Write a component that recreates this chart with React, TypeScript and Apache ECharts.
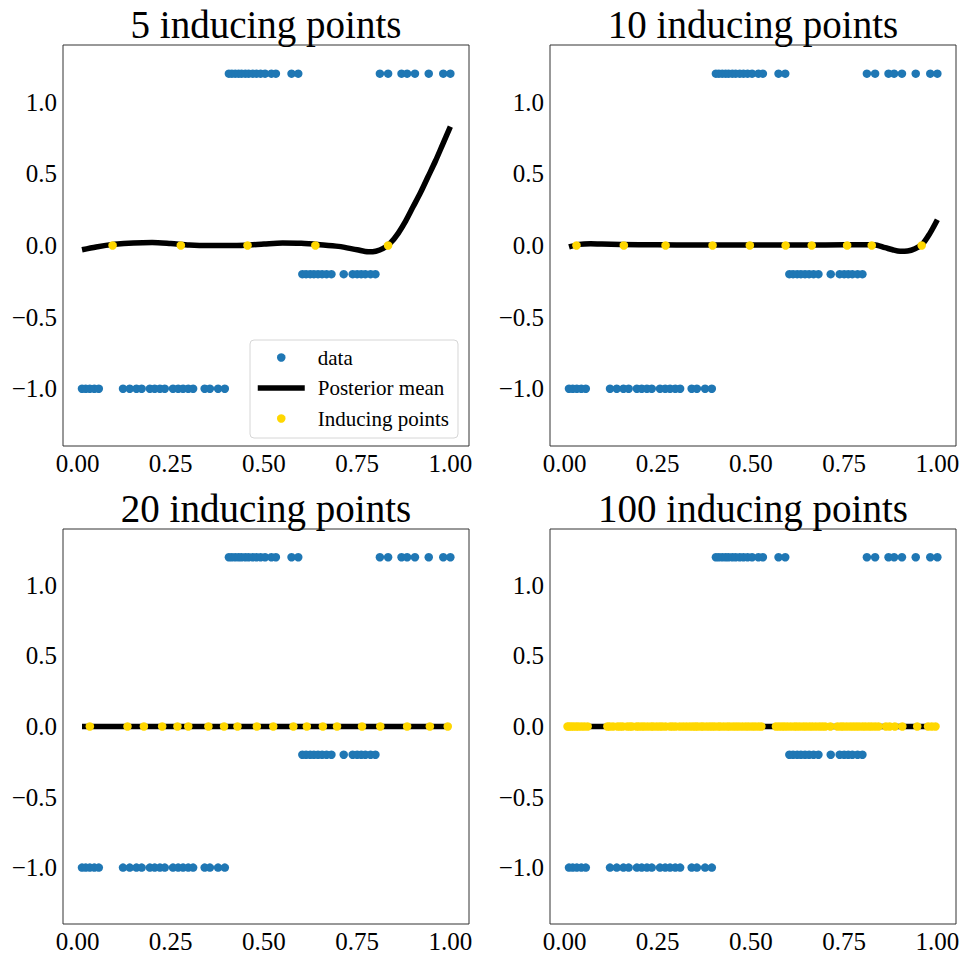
import React, { useEffect, useRef } from "react";
import * as echarts from "echarts";

const BLUE = "#1f77b4";
const GOLD = "#ffd700";
const FONT = "'Liberation Serif', 'DejaVu Serif', serif";

const panelTitles = [
  "5 inducing points",
  "10 inducing points",
  "20 inducing points",
  "100 inducing points",
];

const xTickValues = [0, 0.25, 0.5, 0.75, 1.0];
const xTickLabels = ["0.00", "0.25", "0.50", "0.75", "1.00"];
const yTickValues = [-1, -0.5, 0, 0.5, 1];
const yTickLabels = ["−1.0", "−0.5", "0.0", "0.5", "1.0"];

// Observations: a step function, one list of x positions per level
const stepLevels = [-1, 1.2, -0.2, 1.2];
const stepLowX = [
  0.012, 0.022, 0.033, 0.045, 0.057, 0.122, 0.14, 0.158, 0.172, 0.194, 0.207,
  0.221, 0.234, 0.256, 0.27, 0.283, 0.297, 0.31, 0.341, 0.355, 0.377, 0.395,
];
const stepHighAX = [
  0.406, 0.414, 0.423, 0.432, 0.44, 0.45, 0.459, 0.47, 0.48, 0.491, 0.503,
  0.52, 0.532, 0.574, 0.592,
];
const stepMidX = [
  0.603, 0.613, 0.624, 0.634, 0.645, 0.656, 0.668, 0.681, 0.714, 0.738, 0.75,
  0.761, 0.772, 0.786, 0.799,
];
const stepHighBX = [0.811, 0.833, 0.869, 0.884, 0.905, 0.942, 0.981, 1.0];
const stepGroups = [stepLowX, stepHighAX, stepMidX, stepHighBX];

// Inducing point locations for each model
const inducing5 = [0.094, 0.277, 0.456, 0.638, 0.833];
const inducing10 = [0.032, 0.159, 0.271, 0.397, 0.497, 0.593, 0.663, 0.758, 0.824, 0.958];
const inducing20 = [
  0.033, 0.134, 0.178, 0.227, 0.268, 0.297, 0.351, 0.393, 0.429, 0.481, 0.525,
  0.579, 0.615, 0.658, 0.696, 0.763, 0.812, 0.884, 0.945, 0.993,
];
const inducing100 = [
  0.008, 0.012, 0.018, 0.024, 0.031, 0.037, 0.045, 0.053, 0.062,
  0.115, 0.121, 0.13, 0.142, 0.149, 0.156, 0.168, 0.175, 0.181, 0.193, 0.199,
  0.207, 0.214, 0.223, 0.232, 0.238, 0.247, 0.255, 0.262, 0.271, 0.283, 0.29,
  0.298, 0.309, 0.318, 0.327,
  0.336, 0.344, 0.351, 0.357, 0.366, 0.372, 0.381, 0.389, 0.396, 0.403, 0.412,
  0.418, 0.427, 0.436, 0.443, 0.452, 0.46, 0.468, 0.477, 0.486, 0.494, 0.503,
  0.511, 0.52, 0.528,
  0.567, 0.575, 0.583, 0.59, 0.598, 0.607, 0.616, 0.623, 0.631, 0.64, 0.648,
  0.657, 0.665, 0.674, 0.683, 0.691, 0.699,
  0.713,
  0.732, 0.741, 0.748, 0.757, 0.766, 0.774, 0.782, 0.79, 0.799, 0.807, 0.816,
  0.824, 0.833, 0.842,
  0.862, 0.872, 0.886, 0.906, 0.946, 0.975, 0.985, 0.995,
];

// Posterior means sampled along x
const mean5X = [
  0.012, 0.05, 0.1, 0.15, 0.2, 0.25, 0.3, 0.35, 0.4, 0.45, 0.5, 0.55, 0.6,
  0.65, 0.7, 0.75, 0.78, 0.8, 0.82, 0.84, 0.86, 0.88, 0.9, 0.92, 0.94, 0.96,
  0.98, 1.0,
];
const mean5Y = [
  -0.03, -0.01, 0.008, 0.018, 0.021, 0.014, 0.004, 0.0, 0.0, 0.002, 0.01,
  0.017, 0.015, 0.006, -0.006, -0.03, -0.044, -0.04, -0.02, 0.02, 0.085, 0.17,
  0.27, 0.37, 0.48, 0.59, 0.71, 0.83,
];
const mean10X = [
  0.012, 0.04, 0.07, 0.1, 0.2, 0.3, 0.4, 0.5, 0.6, 0.7, 0.8, 0.83, 0.86, 0.88,
  0.9, 0.92, 0.94, 0.96, 0.98, 1.0,
];
const mean10Y = [
  -0.01, 0.008, 0.012, 0.01, 0.006, 0.004, 0.003, 0.003, 0.004, 0.004, 0.006,
  0.006, -0.015, -0.03, -0.04, -0.038, -0.022, 0.01, 0.085, 0.18,
];
const mean20X = [0.012, 0.25, 0.5, 0.75, 1.0];
const mean20Y = [0.0, 0.0, 0.0, 0.0, 0.0];
const mean100X = [0.012, 0.25, 0.5, 0.75, 1.0];
const mean100Y = [0.0, 0.0, 0.0, 0.0, 0.0];

const inducingSets = [inducing5, inducing10, inducing20, inducing100];
const meanXs = [mean5X, mean10X, mean20X, mean100X];
const meanYs = [mean5Y, mean10Y, mean20Y, mean100Y];

// Panel frames in pixels
const panels = [
  { left: 63, top: 45, width: 406, height: 401 },
  { left: 550, top: 45, width: 406, height: 401 },
  { left: 63, top: 529, width: 406, height: 401 },
  { left: 550, top: 529, width: 406, height: 401 },
];

export default function App() {
  const ref = useRef<HTMLDivElement>(null);

  useEffect(() => {
    document.body.style.margin = "0";
    if (!ref.current) return;
    const chart = echarts.init(ref.current, null, { renderer: "svg" });

    const observations: number[][] = [];
    stepGroups.forEach((xs, g) => xs.forEach((x) => observations.push([x, stepLevels[g]])));

    const series: any[] = [];
    panels.forEach((_, i) => {
      series.push({
        type: "scatter",
        name: "data",
        xAxisIndex: i,
        yAxisIndex: i,
        data: observations,
        symbolSize: 8.5,
        itemStyle: { color: BLUE, opacity: 1 },
        silent: true,
        z: 2,
      });
      series.push({
        type: "line",
        name: "Posterior mean",
        xAxisIndex: i,
        yAxisIndex: i,
        data: meanXs[i].map((x, j) => [x, meanYs[i][j]]),
        symbol: "none",
        showSymbol: false,
        smooth: 0.3,
        lineStyle: { color: "#000", width: 5.5 },
        itemStyle: { color: "#000" },
        silent: true,
        z: 3,
      });
      series.push({
        type: "scatter",
        name: "Inducing points",
        xAxisIndex: i,
        yAxisIndex: i,
        data: inducingSets[i].map((x) => [x, 0]),
        symbolSize: 8.5,
        itemStyle: { color: GOLD, opacity: 1 },
        silent: true,
        z: 4,
      });
    });

    const option: any = {
      animation: false,
      backgroundColor: "#fff",
      grid: panels.map((p) => ({
        ...p,
        show: true,
        borderColor: "#333",
        borderWidth: 1,
        backgroundColor: "transparent",
      })),
      xAxis: panels.map((_, i) => ({
        type: "value",
        gridIndex: i,
        min: -0.039,
        max: 1.05,
        axisLine: { show: false },
        splitLine: { show: false },
        axisTick: { show: false },
        axisLabel: {
          customValues: xTickValues,
          formatter: (v: number) => xTickLabels[xTickValues.indexOf(v)] ?? "",
          fontFamily: FONT,
          fontSize: 25,
          color: "#000",
          margin: 5,
        },
      })),
      yAxis: panels.map((_, i) => ({
        type: "value",
        gridIndex: i,
        min: -1.4,
        max: 1.4,
        axisLine: { show: false },
        splitLine: { show: false },
        axisTick: { show: false },
        axisLabel: {
          customValues: yTickValues,
          formatter: (v: number) => yTickLabels[yTickValues.indexOf(v)] ?? "",
          fontFamily: FONT,
          fontSize: 25,
          color: "#000",
          margin: 6,
        },
      })),
      legend: {
        show: true,
        orient: "vertical",
        left: 250,
        top: 340,
        data: [
          { name: "data" },
          { name: "Posterior mean", itemStyle: { opacity: 0 } },
          { name: "Inducing points" },
        ],
        itemWidth: 47,
        itemHeight: 8.5,
        itemGap: 9.5,
        padding: [7, 9, 9, 5],
        backgroundColor: "#fff",
        borderColor: "#d6d6d6",
        borderWidth: 1,
        borderRadius: 4,
        selectedMode: false,
        lineStyle: { width: 5.5 },
        textStyle: {
          fontFamily: FONT,
          fontSize: 21,
          color: "#000",
          padding: [0, 0, 0, 8],
        },
      },
      graphic: panels.map((p, i) => ({
        type: "text",
        x: p.left + p.width / 2,
        y: p.top - 21,
        style: {
          text: panelTitles[i],
          fontFamily: FONT,
          fontSize: 39,
          fill: "#000",
          textAlign: "center",
          textVerticalAlign: "middle",
        },
      })),
      series,
    };

    chart.setOption(option);
    return () => chart.dispose();
  }, []);

  return <div ref={ref} style={{ width: 963, height: 954 }} />;
}
